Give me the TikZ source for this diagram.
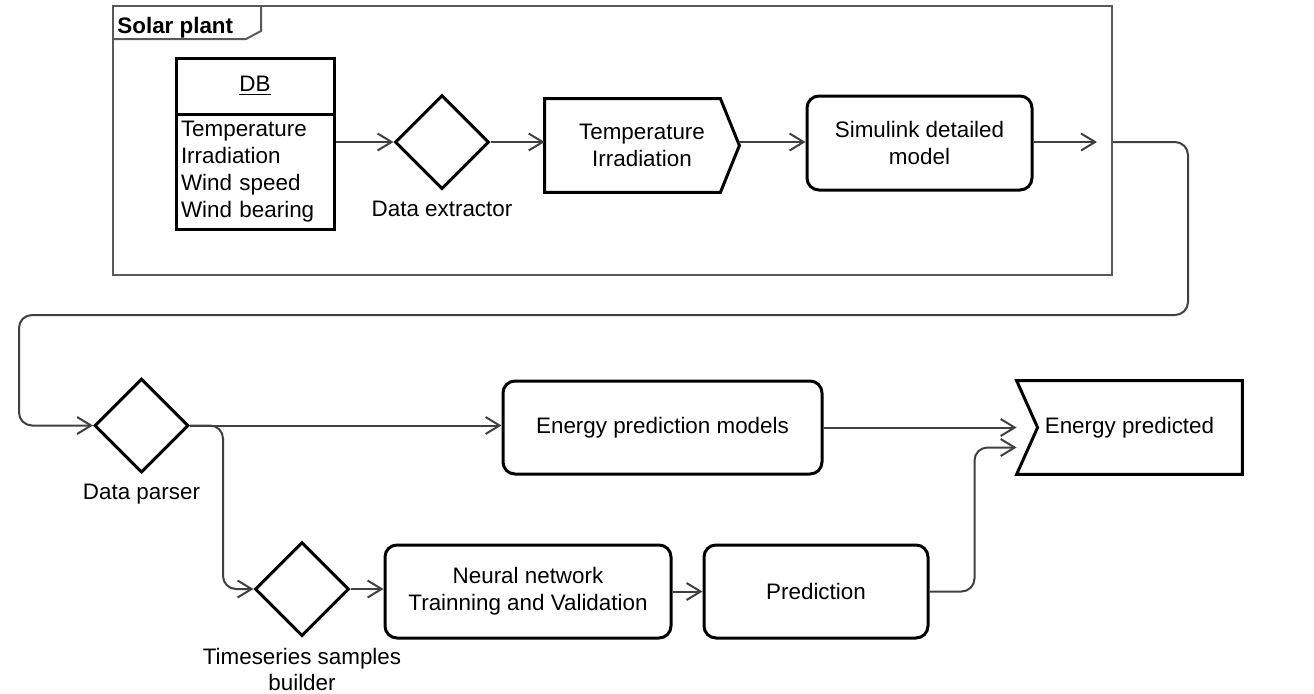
\documentclass[tikz,border=0pt]{standalone}
\usepackage{fontspec}
\setmainfont{Liberation Sans}
\usetikzlibrary{shapes.geometric,arrows.meta}
\begin{document}
\begin{tikzpicture}[
    x=0.5pt, y=-0.5pt,
    font=\fontsize{11.2}{13.4}\selectfont,
    box/.style={draw, line width=1.5pt, rounded corners=6pt, align=center, inner sep=2pt},
    plain/.style={draw=none, align=center, inner sep=2pt},
    dec/.style={diamond, draw, line width=1.5pt, minimum width=47pt, minimum height=47pt, inner sep=0pt},
    conn/.style={draw=black!75, line width=1pt, -{Straight Barb[length=7pt, width=8.5pt]}},
    frame/.style={draw=black!65, line width=1pt},
    every label/.style={inner sep=1pt, align=center},
    label distance=4pt
  ]
    \useasboundingbox (0,0) rectangle (1314,693);

    % solar plant frame
    \node[frame, minimum width=499.5pt, minimum height=134.5pt, inner sep=0pt] (plant) at (612.5,140.5) {};
    \draw[frame] ([yshift=-17pt]plant.north west) -- ++(134,0) -- ++(15,-8) -- ++(0,-26);
    \node[font=\fontsize{11.2}{13.4}\selectfont\bfseries, anchor=west, inner sep=0pt] at ([xshift=2.5pt, yshift=-11.5pt]plant.north west) {Solar plant};

    \node[draw, line width=1.5pt, minimum width=79pt, minimum height=28pt, inner sep=0pt] (dbhead) at (255,86) {\underline{DB}};
    \node[draw, line width=1.5pt, minimum width=79pt, minimum height=57.5pt, text width=74pt, align=left, inner xsep=2.5pt, inner ysep=0pt] (dbbody) at (255,171.5) {Temperature\\Irradiation\\Wind speed\\Wind bearing};

    \node[dec, label=below:Data extractor] (extr) at (442,142) {};

    \node[plain, minimum width=97pt, minimum height=46.5pt] (tempirr) at (642,145.5) {Temperature\\Irradiation};
    \draw[line width=1.5pt] (tempirr.north west) -- ([xshift=-9.5pt]tempirr.north east) -- (tempirr.east)
      -- ([xshift=-9.5pt]tempirr.south east) -- (tempirr.south west) -- cycle;

    \node[box, minimum width=112.5pt, minimum height=47pt] (sim) at (919.5,143) {Simulink detailed\\model};
    \coordinate (simout) at (1097,142);

    % lower part
    \node[dec, label=below:Data parser] (parser) at (141.5,425.5) {};
    \node[box, minimum width=159.5pt, minimum height=46.5pt] (epm) at (662.5,427.5) {Energy prediction models};

    \node[plain, minimum width=112.5pt, minimum height=46.5pt] (ep) at (1129.5,427.5) {Energy predicted};
    \draw[line width=1.5pt] (ep.north west) -- (ep.north east) -- (ep.south east) -- (ep.south west)
      -- ([xshift=10.5pt]ep.west) -- cycle;

    \node[dec, label=below:{Timeseries samples\\builder}] (ts) at (302,589) {};
    \node[box, minimum width=143pt, minimum height=46.5pt] (nn) at (528,591.5) {Neural network\\Trainning and Validation};
    \node[box, minimum width=112pt, minimum height=46.5pt] (pred) at (816,591.5) {Prediction};

    % connectors
    \draw[conn] (dbbody.east |- extr) -- (extr.west);
    \draw[conn] (extr.east) -- (tempirr.west |- extr);
    \draw[conn] (tempirr.east |- extr) -- (sim.west |- extr);
    \draw[conn] (sim.east |- extr) -- (simout);
    \draw[conn, rounded corners=6.5pt] (plant.east |- extr) -| (1188,315) -| (19,425.5) -- (parser.west);
    \draw[conn] (parser.east) -- (epm.west |- parser);
    \draw[conn, rounded corners=6.5pt] (parser.east) -- ++(33,0) |- (ts.west);
    \draw[conn] (ts.east) -- (nn.west |- ts);
    \draw[conn] (nn.east) -- (pred.west);
    \draw[conn] (epm.east) -- (ep.west);
    \draw[conn, rounded corners=6.5pt] (pred.east) -- ++(45,0) |- ([yshift=-10pt]ep.west);
\end{tikzpicture}
\end{document}
